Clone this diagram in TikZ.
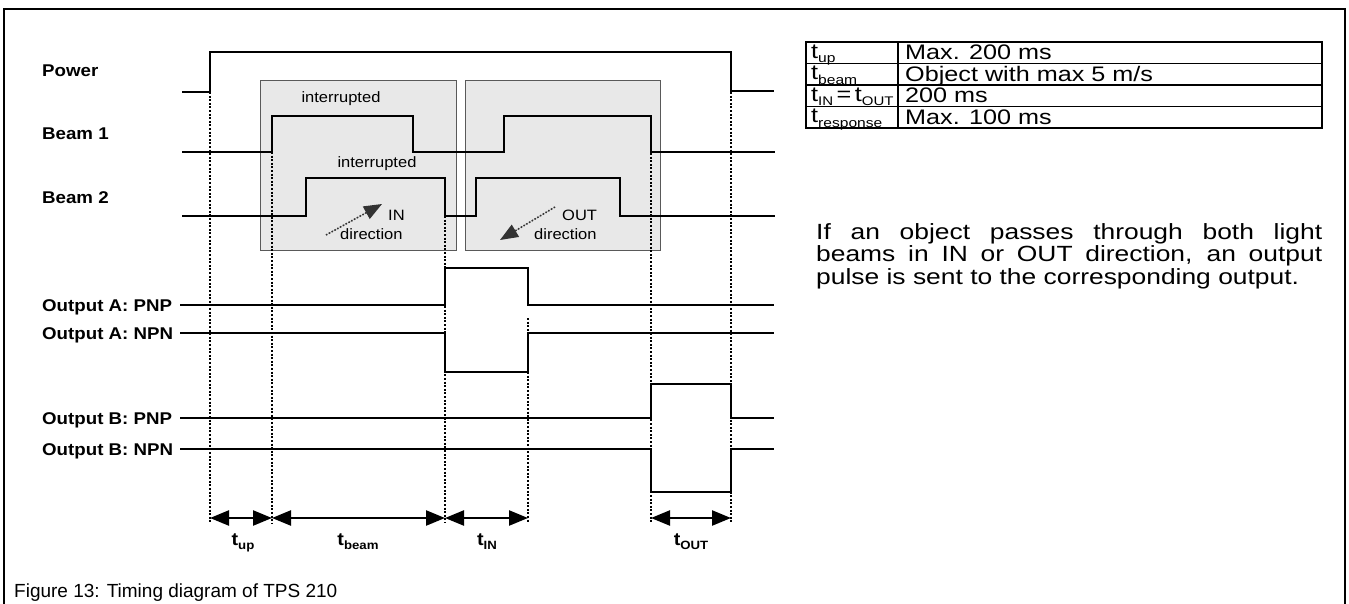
\documentclass[tikz,border=0pt]{standalone}
\usepackage{fontspec}
\setmainfont{Liberation Sans}
\newfontfamily\figfont[FakeStretch=1.1]{Liberation Sans}
\newfontfamily\tabfont[FakeStretch=1.2]{Liberation Sans}
\newcommand{\subtxt}[3]{\raisebox{#2}{\fontsize{#1}{#1}\selectfont #3}}
\usetikzlibrary{arrows.meta}
\begin{document}
\begin{tikzpicture}[x=1pt,y=-1pt,
  wave/.style={line width=2.6pt, line join=miter, line cap=butt},
  dots/.style={line width=1.9pt, dash pattern=on 1.9pt off 1.7pt},
  gbox/.style={draw=black!65, fill=black!9, line width=1.2pt, inner sep=0pt, anchor=north west},
  lbl/.style={anchor=base west, inner sep=0pt, font=\figfont\bfseries\fontsize{17}{20}\selectfont},
  small/.style={inner sep=0pt, font=\figfont\fontsize{15}{17}\selectfont},
  tab/.style={anchor=base west, inner sep=0pt, font=\tabfont\fontsize{21}{23}\selectfont},
  para/.style={anchor=base west, inner sep=0pt, font=\tabfont\fontsize{22}{24}\selectfont},
  dim/.style={line width=2.4pt, {Triangle[length=19pt,width=15pt]}-{Triangle[length=19pt,width=15pt]}},
  tl/.style={anchor=base, inner sep=0pt, font=\figfont\bfseries\fontsize{18}{20}\selectfont},
  dirarrow/.style={line width=1.6pt, draw=black!80, fill=black!80, dash pattern=on 1.5pt off 1.7pt, -{Triangle[length=18pt,width=14pt]}}
]
\useasboundingbox (0,0) rectangle (1349,603);
\fill[white] (0,0) rectangle (1349,603);
% frame
\draw[line width=2pt] (4,606) -- (4,9) -- (1345,9) -- (1345,606);

% grey boxes
\node[gbox, minimum width=196pt, minimum height=170pt] (boxin) at (260,80) {};
\node[gbox, minimum width=195pt, minimum height=170pt] (boxout) at (465,80) {};

% box texts
\node[small] (int1) at (341,99) {interrupted};
\node[small] (int2) at (377,164) {interrupted};
\node[small, anchor=west] (intxt) at (388,215) {IN};
\node[small, anchor=west] (indir) at (340,234) {direction};
\node[small, anchor=west] (outtxt) at (562,215) {OUT};
\node[small, anchor=west] (outdir) at (534,234) {direction};
\coordinate (ina) at (326,235);
\coordinate (inb) at (382,204);
\coordinate (outa) at (555,207);
\coordinate (outb) at (500,240);
\draw[dirarrow] (ina) -- (inb);
\draw[dirarrow] (outa) -- (outb);

% dotted guide lines
\draw[dots] (210,92) -- (210,523);
\draw[dots] (272,152) -- (272,523);
\draw[dots] (445,216) -- (445,523);
\draw[dots] (528,318) -- (528,523);
\draw[dots] (651,135) -- (651,523);
\draw[dots] (731,92) -- (731,523);

% waveforms
\draw[wave] (182,92) -- (210,92) -- (210,52) -- (731,52) -- (731,91) -- (774,91);
\draw[wave] (182,152) -- (272,152) -- (272,116) -- (413,116) -- (413,152) -- (504,152) -- (504,116) -- (651,116) -- (651,152) -- (775,152);
\draw[wave] (182,216) -- (306,216) -- (306,178) -- (445,178) -- (445,216) -- (476,216) -- (476,178) -- (620,178) -- (620,216) -- (775,216);
\draw[wave] (180,305) -- (445,305) -- (445,268) -- (528,268) -- (528,305) -- (774,305);
\draw[wave] (180,333) -- (445,333) -- (445,372) -- (528,372) -- (528,333) -- (774,333);
\draw[wave] (180,418) -- (651,418) -- (651,384) -- (731,384) -- (731,418) -- (774,418);
\draw[wave] (180,449) -- (651,449) -- (651,492) -- (731,492) -- (731,449) -- (774,449);

% signal labels
\node[lbl] (lpow) at (42,76) {Power};
\node[lbl] (lb1) at (42,139.5) {Beam 1};
\node[lbl] (lb2) at (42,203.5) {Beam 2};
\node[lbl] (lapnp) at (42,311.5) {Output A: PNP};
\node[lbl] (lanpn) at (42,339.5) {Output A: NPN};
\node[lbl] (lbpnp) at (42,424.5) {Output B: PNP};
\node[lbl] (lbnpn) at (42,455.5) {Output B: NPN};

% dimension arrows
\coordinate (d0) at (210,518);
\coordinate (d1) at (272,518);
\coordinate (d2) at (445,518);
\coordinate (d3) at (528,518);
\coordinate (d4) at (651,518);
\coordinate (d5) at (731,518);
\draw[dim] (d0) -- (d1);
\draw[dim] (d1) -- (d2);
\draw[dim] (d2) -- (d3);
\draw[dim] (d4) -- (d5);
\node[tl] (tup) at (243,545) {t\subtxt{12}{-4pt}{up}};
\node[tl] (tbeam) at (358,545) {t\subtxt{12}{-4pt}{beam}};
\node[tl] (tin) at (487,545) {t\subtxt{12}{-4pt}{IN}};
\node[tl] (tout) at (691,545) {t\subtxt{12}{-4pt}{OUT}};

% table
\draw[line width=1.5pt] (806,42) rectangle (1322,128);
\draw[line width=1.5pt] (806,63.5) -- (1322,63.5);
\draw[line width=1.5pt] (806,85) -- (1322,85);
\draw[line width=1.5pt] (806,106.5) -- (1322,106.5);
\draw[line width=1.5pt] (898,42) -- (898,128);
\node[tab] (k1) at (811,58) {t\subtxt{13}{-4.5pt}{up}};
\node[tab] (k2) at (811,79.5) {t\subtxt{13}{-4.5pt}{beam}};
\node[tab] (k3) at (811,101) {t\subtxt{12.5}{-4.5pt}{IN}\,=\,t\subtxt{12.5}{-4.5pt}{OUT}};
\node[tab] (k4) at (811,122.5) {t\subtxt{13}{-4.5pt}{response}};
\node[tab] (v1) at (905,59.5) {Max. 200 ms};
\node[tab] (v2) at (905,81) {Object with max 5 m/s};
\node[tab] (v3) at (905,102.5) {200 ms};
\node[tab] (v4) at (905,124) {Max. 100 ms};

% paragraph
\node[para] (p1) at (816,239) {\makebox[506pt][s]{If an object passes through both light}};
\node[para] (p2) at (816,261.5) {\makebox[506pt][s]{beams in IN or OUT direction, an output}};
\node[para] (p3) at (816,284) {pulse is sent to the corresponding output.};

% caption
\node[anchor=base west, inner sep=0pt, font=\fontsize{19}{22}\selectfont] (cap) at (14,597) {Figure 13: Timing diagram of TPS 210};
\end{tikzpicture}
\end{document}
